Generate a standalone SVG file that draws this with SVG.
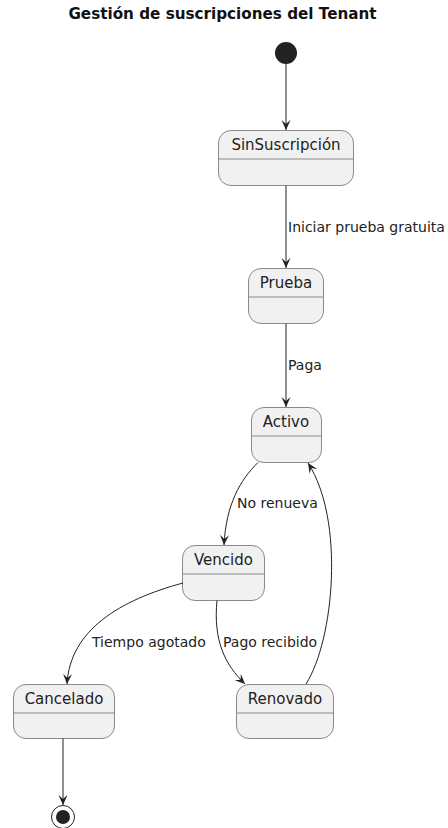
<svg xmlns="http://www.w3.org/2000/svg" width="448" height="828" viewBox="0 0 448 828">
  <style>
    .title { font-family: "DejaVu Sans", sans-serif; font-size: 15.2px; font-weight: bold; fill: #111; }
    .state rect { fill: #F1F1F1; stroke: #8A8A8A; stroke-width: 1; }
    .state line { stroke: #8A8A8A; stroke-width: 1; }
    .state text { font-family: "DejaVu Sans", sans-serif; font-size: 15px; fill: #222; text-anchor: middle; }
    .edge { fill: none; stroke: #222222; stroke-width: 1; marker-end: url(#arrow); }
    .label { font-family: "DejaVu Sans", sans-serif; font-size: 14px; fill: #222; }
  </style>
  <defs>
    <marker id="arrow" markerUnits="userSpaceOnUse" markerWidth="12" markerHeight="12" viewBox="-11 -6 12 12" refX="0" refY="0" orient="auto">
      <path d="M0,0 L-10,-4.5 L-6,0 L-10,4.5 Z" fill="#222222"/>
    </marker>
  </defs>

  <rect width="448" height="828" fill="#FFFFFF"/>
  <text class="title" x="222.5" y="18.5" text-anchor="middle">Gestión de suscripciones del Tenant</text>

  <g id="start">
    <circle cx="286" cy="53" r="11" fill="#222222"/>
  </g>

  <g id="SinSuscripcion" class="state">
    <rect x="218.5" y="130.5" width="135" height="55" rx="12.5" ry="12.5"/>
    <line x1="218.5" y1="159" x2="353.5" y2="159"/>
    <text x="286" y="149.5">SinSuscripción</text>
  </g>

  <g id="Prueba" class="state">
    <rect x="248.5" y="268.5" width="75" height="55" rx="12.5" ry="12.5"/>
    <line x1="248.5" y1="297" x2="323.5" y2="297"/>
    <text x="286" y="288">Prueba</text>
  </g>

  <g id="Activo" class="state">
    <rect x="251.5" y="407.5" width="70" height="55" rx="12.5" ry="12.5"/>
    <line x1="251.5" y1="436" x2="321.5" y2="436"/>
    <text x="286" y="427">Activo</text>
  </g>

  <g id="Vencido" class="state">
    <rect x="182.5" y="545.5" width="82" height="55" rx="12.5" ry="12.5"/>
    <line x1="182.5" y1="574" x2="264.5" y2="574"/>
    <text x="223.5" y="565">Vencido</text>
  </g>

  <g id="Cancelado" class="state">
    <rect x="13.5" y="684.5" width="101" height="54" rx="12.5" ry="12.5"/>
    <line x1="13.5" y1="713" x2="114.5" y2="713"/>
    <text x="64" y="704">Cancelado</text>
  </g>

  <g id="Renovado" class="state">
    <rect x="236.5" y="684.5" width="97" height="54" rx="12.5" ry="12.5"/>
    <line x1="236.5" y1="713" x2="333.5" y2="713"/>
    <text x="285" y="704">Renovado</text>
  </g>

  <g id="end">
    <circle cx="63" cy="817" r="11.5" fill="none" stroke="#222222" stroke-width="1"/>
    <circle cx="63" cy="817" r="7" fill="#222222"/>
  </g>

  <g id="connectors">
    <path class="edge" d="M286,64 L286,130"/>
    <path class="edge" d="M286,185.5 L286,268"/>
    <text class="label" x="288" y="231.5">Iniciar prueba gratuita</text>
    <path class="edge" d="M286,323.5 L286,407"/>
    <text class="label" x="288" y="369.5">Paga</text>
    <path class="edge" d="M258,462.5 C240,480 226,505 224,545"/>
    <text class="label" x="237" y="507.5">No renueva</text>
    <path class="edge" d="M183,583 C120,600 70,630 67,684"/>
    <text class="label" x="92" y="646.5">Tiempo agotado</text>
    <path class="edge" d="M217,600.5 C213,640 225,665 245,684"/>
    <text class="label" x="223" y="646.5">Pago recibido</text>
    <path class="edge" d="M306,684 C334,640 345,520 308,463"/>
    <path class="edge" d="M63,738.5 L63,805"/>
  </g>
</svg>
